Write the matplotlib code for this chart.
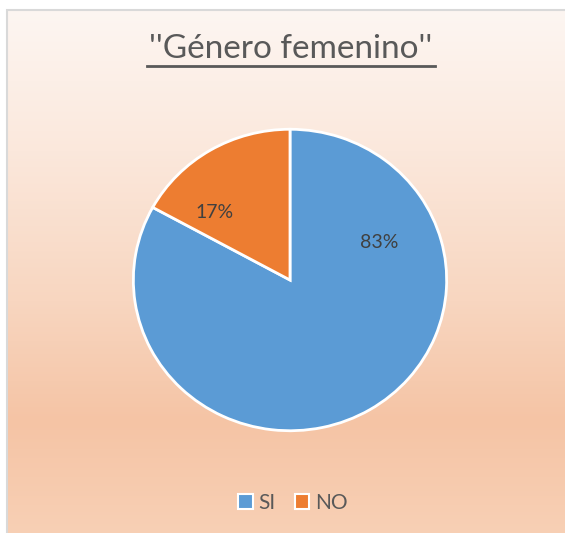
import numpy as np
import matplotlib.pyplot as plt
from matplotlib.patches import Patch

# Datos del gráfico
labels = ["SI", "NO"]
values = [83, 17]
colors = ["#5B9BD5", "#ED7D31"]
title = "''Género femenino''"

W, H = 565, 533
plt.rcParams["font.family"] = ["Lato", "DejaVu Sans"]
text_color = "#595959"

fig = plt.figure(figsize=(W / 100, H / 100), dpi=100)

# fondo con degradado
bg = fig.add_axes([0, 0, 1, 1])
bg.set_xlim(0, W)
bg.set_ylim(H, 0)
bg.axis("off")
stops_y = [10, 150, 300, 420, 533]
stops_c = np.array([[253, 246, 242], [251, 232, 220], [248, 214, 192],
                    [245, 196, 165], [248, 208, 181]]) / 255
ys = np.arange(10, H + 30)
grad = np.stack([np.interp(ys, stops_y, stops_c[:, i]) for i in range(3)], axis=-1)
grad = np.repeat(grad[:, None, :], 4, axis=1)
bg.imshow(grad, extent=[7, W + 30, H + 30, 10], aspect="auto",
          interpolation="nearest", zorder=0)
# borde del área del gráfico (solo izquierda y arriba quedan visibles)
bg.plot([7, 7, W + 20], [H + 20, 10, 10], color="#D9D9D9", linewidth=1.5,
        solid_joinstyle="miter")

# título subrayado
fig.text(291 / W, 1 - 49 / H, title, ha="center", va="center",
         fontsize=24, color=text_color)
bg.plot([147, 435], [66, 66], color=text_color, linewidth=2)

# pastel (ligeramente más ancho que alto, como el original)
cx, cy, rx, ry = 290, 280, 159, 153
ax = fig.add_axes([(cx - rx) / W, (H - cy - ry) / H, 2 * rx / W, 2 * ry / H])
ax.pie(values, colors=colors, startangle=90, counterclock=False,
       wedgeprops=dict(edgecolor="white", linewidth=2))
ax.set_aspect("auto")
ax.set_xlim(-1.015, 1.015)
ax.set_ylim(-1.015, 1.015)
label_pos = [(0.57, 0.25), (-0.48, 0.45)]
for (x, y), v in zip(label_pos, values):
    ax.text(x, y, f"{v}%", ha="center", va="center", fontsize=14,
            color="#404040")

# leyenda
handles = [Patch(facecolor=c, edgecolor="white", linewidth=1.5) for c in colors]
fig.legend(handles, labels, loc="center", bbox_to_anchor=(293 / W, 1 - 503 / H),
           ncol=2, frameon=False, fontsize=15, labelcolor=text_color,
           handlelength=0.7, handleheight=0.7, handletextpad=0.3,
           columnspacing=0.9)

fig.savefig("out.png", dpi=100)
